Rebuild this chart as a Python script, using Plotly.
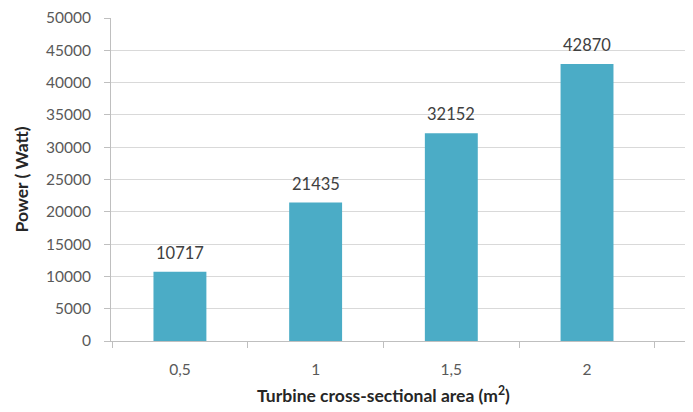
import plotly.graph_objects as go

categories = ["0,5", "1", "1,5", "2"]
power = [10717, 21435, 32152, 42870]
y_ticks = [0, 5000, 10000, 15000, 20000, 25000, 30000, 35000, 40000, 45000, 50000]
x_title = "<b>Turbine cross-sectional area (m<sup>2</sup>)</b>"

FONT = "Lato, Open Sans, sans-serif"

fig = go.Figure(go.Bar(
    x=categories, y=power,
    marker=dict(color="#4BACC6", line=dict(width=0)),
    width=0.39,
    hoverinfo="x+y",
))

for i, v in enumerate(power):
    fig.add_annotation(
        x=i, y=v, text=str(v), showarrow=False,
        yanchor="bottom", yshift=7,
        font=dict(family=FONT, size=16.5, color="#404040"),
    )

# x-axis title centred under the category area (as in the reference)
fig.add_annotation(
    x=(len(categories) - 1) / 2, xref="x", y=0, yref="paper",
    text=x_title, showarrow=False, xanchor="center", yanchor="middle",
    yshift=-53, font=dict(family=FONT, size=17.5, color="#262626"),
)

fig.update_layout(
    width=693, height=412,
    margin=dict(l=103, r=0, t=10, b=79, autoexpand=False),
    paper_bgcolor="white", plot_bgcolor="white",
    showlegend=False,
    font=dict(family=FONT, color="#595959"),
)
fig.update_xaxes(
    type="category", range=[-0.508, 3.84], tickson="boundaries",
    ticks="outside", ticklen=6, tickcolor="#bfbfbf",
    showline=True, linecolor="#bfbfbf", linewidth=1,
    showgrid=False, tickfont=dict(size=15.5, color="#595959"),
    ticklabelstandoff=14, automargin=False,
)
fig.update_yaxes(
    range=[0, 50000], tickvals=y_ticks, ticktext=[str(v) for v in y_ticks],
    ticks="outside", ticklen=6, tickcolor="#bfbfbf",
    showline=True, linecolor="#bfbfbf", linewidth=1,
    showgrid=True, gridcolor="#d9d9d9", gridwidth=1, zeroline=False,
    tickfont=dict(size=15.5, color="#595959"),
    ticklabelstandoff=10, automargin=False,
    title=dict(text="<b>Power ( Watt)</b>", font=dict(size=17.5, color="#262626"), standoff=12),
)

fig.write_html("out.html")
